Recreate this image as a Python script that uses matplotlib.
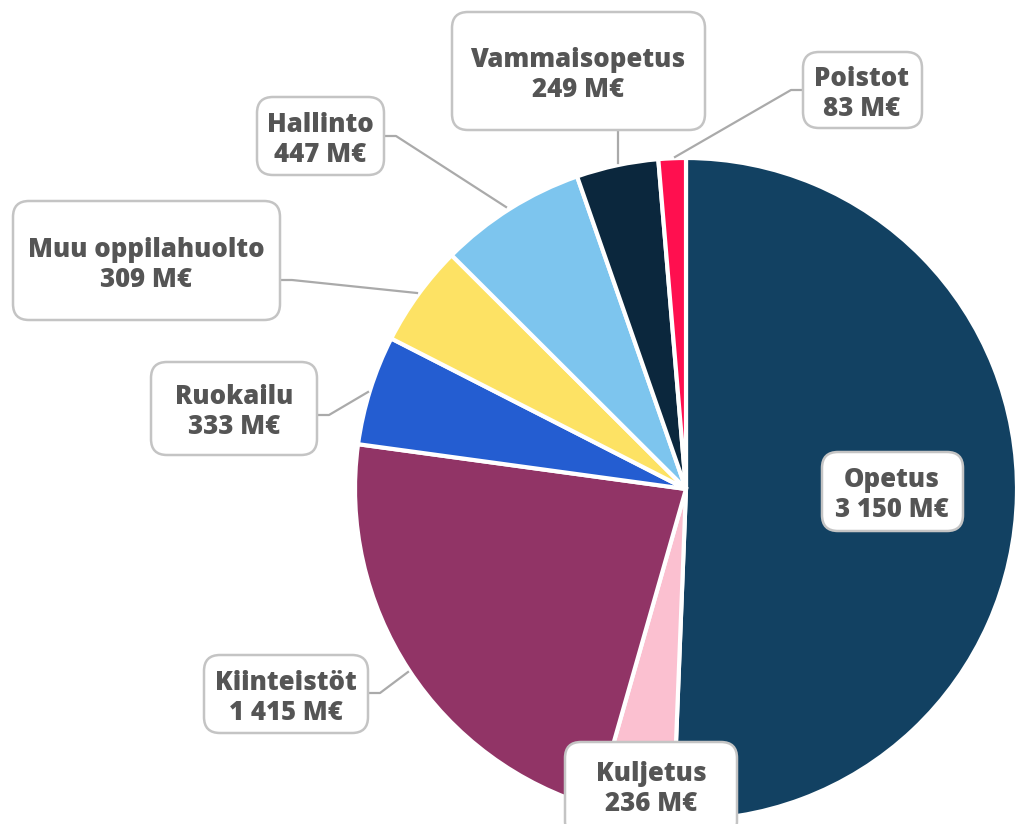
import matplotlib
matplotlib.use('Agg')
import matplotlib.pyplot as plt
from matplotlib.patches import FancyBboxPatch

plt.rcParams['font.family'] = ['Open Sans', 'DejaVu Sans']

# data (clockwise from 12 o'clock)
categories = ['Opetus', 'Kuljetus', 'Kiinteistöt', 'Ruokailu',
              'Muu oppilahuolto', 'Hallinto', 'Vammaisopetus', 'Poistot']
values = [3150, 236, 1415, 333, 309, 447, 249, 83]
value_labels = ['3 150 M€', '236 M€', '1 415 M€', '333 M€',
                '309 M€', '447 M€', '249 M€', '83 M€']
colors = ['#124162', '#fbc0d0', '#913466', '#245dd1',
          '#fde264', '#7dc5ee', '#0b273d', '#ff0f4f']

W, H = 1015, 824
fig = plt.figure(figsize=(W / 100, H / 100), dpi=100, facecolor='white')
ax = fig.add_axes([0, 0, 1, 1])

# y axis inverted afterwards, so counterclock=True reads clockwise on screen
ax.pie(values, colors=colors, startangle=-90, counterclock=True,
       center=(686, 489), radius=331, frame=True,
       wedgeprops=dict(edgecolor='white', linewidth=3))
ax.set_xlim(0, W)
ax.set_ylim(H, 0)
ax.set_aspect('equal')
ax.axis('off')

# label layout: text centre, box (x0, y0, w, h), connector points
layout = {
    'Opetus':           ((892, 495), (822, 452, 141, 79), None),
    'Kuljetus':         ((651, 789), (565, 742, 172, 95), None),
    'Kiinteistöt':      ((286, 698), (204, 655, 164, 78), [(368, 693), (380, 693), (408, 672)]),
    'Ruokailu':         ((234, 412), (151, 362, 166, 93), [(317, 415), (329, 415), (368, 392)]),
    'Muu oppilahuolto': ((146, 265), (13, 201, 267, 119), [(280, 280), (292, 280), (417, 293)]),
    'Hallinto':         ((320, 140), (257, 97, 127, 78), [(384, 136), (396, 136), (506, 207)]),
    'Vammaisopetus':    ((578, 75), (452, 12, 253, 118), [(618, 130), (618, 163)]),
    'Poistot':          ((862, 94), (803, 52, 119, 76), [(803, 90), (791, 90), (675, 157)]),
}

for name, vlab in zip(categories, value_labels):
    (tx, ty), (bx, by, bw, bh), pts = layout[name]
    if pts:
        xs, ys = zip(*pts)
        ax.plot(xs, ys, color='#aaaaaa', linewidth=1.6, zorder=3)
    box = FancyBboxPatch((bx, by), bw, bh, boxstyle='round,pad=0,rounding_size=16',
                         facecolor='white', edgecolor='#c4c4c4', linewidth=1.8,
                         zorder=4)
    ax.add_patch(box)
    ax.text(tx, ty, f'{name}\n{vlab}', ha='center', va='center', fontsize=18.5,
            fontweight='heavy', color='#555555', linespacing=1.18, zorder=5)

fig.savefig('out.png', dpi=100, facecolor='white')
